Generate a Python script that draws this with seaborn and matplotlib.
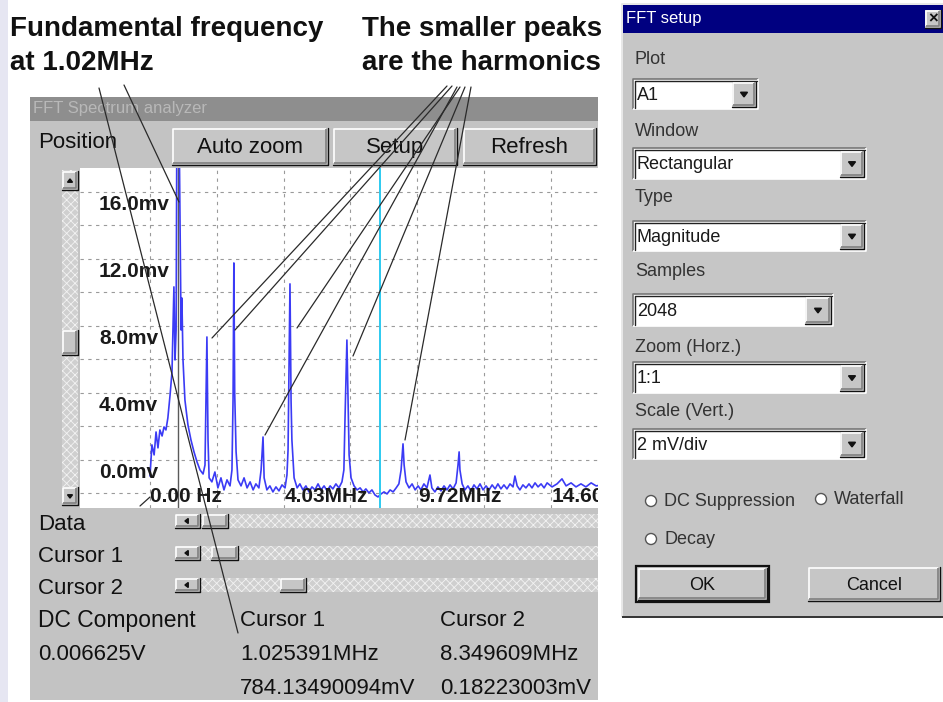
import matplotlib
matplotlib.use("Agg")
import matplotlib.pyplot as plt
from matplotlib.patches import Rectangle, Circle, Polygon
import seaborn as sns

W, H = 943, 702

# spectrum trace (frequency in MHz, level in mV)
freq_mhz = [
    0.00, 0.07, 0.15, 0.22, 0.29, 0.36, 0.44, 0.51, 0.58, 0.65,
    0.73, 0.80, 0.87, 0.91, 0.95, 0.98, 1.02, 1.05, 1.13, 1.16,
    1.20, 1.27, 1.38, 1.49, 1.60, 1.71, 1.82, 1.93, 2.00, 2.07,
    2.11, 2.15, 2.25, 2.36, 2.47, 2.58, 2.69, 2.80, 2.91, 2.98,
    3.02, 3.05, 3.08, 3.13, 3.20, 3.31, 3.42, 3.53, 3.64, 3.75,
    3.85, 3.96, 4.04, 4.11, 4.15, 4.25, 4.36, 4.47, 4.58, 4.69,
    4.80, 4.91, 4.98, 5.02, 5.05, 5.09, 5.13, 5.16, 5.24, 5.35,
    5.45, 5.56, 5.67, 5.78, 5.89, 6.00, 6.11, 6.22, 6.33, 6.44,
    6.55, 6.65, 6.76, 6.87, 6.98, 7.05, 7.09, 7.16, 7.20, 7.24,
    7.31, 7.42, 7.53, 7.64, 7.75, 7.85, 7.96, 8.07, 8.18, 8.29,
    8.40, 8.51, 8.62, 8.73, 8.84, 8.95, 9.05, 9.13, 9.20, 9.24,
    9.31, 9.42, 9.53, 9.64, 9.75, 9.85, 9.96, 10.07, 10.18, 10.25,
    10.36, 10.47, 10.58, 10.69, 10.80, 10.91, 11.02, 11.13, 11.20, 11.24,
    11.27, 11.35, 11.45, 11.56, 11.67, 11.78, 11.89, 12.00, 12.11, 12.22,
    12.33, 12.44, 12.55, 12.65, 12.76, 12.87, 12.98, 13.09, 13.20, 13.27,
    13.35, 13.45, 13.56, 13.67, 13.78, 13.89, 14.00, 14.11, 14.22, 14.33,
    14.44, 14.62, 14.80, 14.98, 15.13, 15.31, 15.49, 15.67, 15.85, 16.04,
    16.22, 16.40,
]
level_mv = [
    -0.96, 0.90, 0.30, 1.67, 0.72, 1.79, 1.43, 1.97, 1.79, 2.51,
    3.88, 5.25, 10.33, 5.97, 7.76, 21.5, 18.5, 21.5, 7.76, 9.67,
    5.97, 3.58, 2.09, 1.19, 0.48, -0.12, -0.60, -0.84, -0.30, 7.34,
    1.19, -1.07, -1.31, -0.72, -1.67, -1.07, -1.79, -1.19, -1.55, -0.60,
    3.58, 11.76, 4.00, 0.50, -1.19, -1.55, -1.07, -1.67, -1.31, -1.79,
    -1.43, -1.67, -0.60, 1.37, -1.07, -1.79, -1.55, -1.91, -1.61, -1.85,
    -1.49, -1.67, -0.90, 0.60, 4.78, 10.51, 3.50, 1.19, -1.07, -1.67,
    -1.43, -1.79, -1.55, -1.91, -1.61, -1.79, -1.43, -1.79, -1.55, -1.85,
    -1.55, -1.73, -1.43, -1.67, -1.31, -0.60, 2.39, 7.16, 3.58, 0.30,
    -1.07, -1.55, -1.79, -1.67, -1.91, -1.73, -1.97, -1.79, -2.09, -2.21,
    -2.03, -1.91, -2.03, -1.79, -1.91, -1.67, -1.43, -0.60, 0.96, -0.30,
    -1.31, -1.67, -1.43, -1.79, -1.55, -1.79, -1.43, -1.67, -0.90, -1.67,
    -1.91, -1.61, -1.85, -1.55, -1.79, -1.49, -1.73, -1.37, -0.30, 0.48,
    -0.60, -1.43, -1.79, -1.55, -1.85, -1.49, -1.73, -1.43, -1.79, -1.55,
    -1.79, -1.49, -1.73, -1.43, -1.73, -1.49, -1.73, -1.43, -1.61, -0.96,
    -1.55, -1.79, -1.49, -1.67, -1.43, -1.67, -1.37, -1.61, -1.43, -1.67,
    -1.37, -1.61, -1.43, -1.13, -1.55, -1.37, -1.61, -1.43, -1.61, -1.37,
    -1.55, -1.50,
]

cursor1_mhz = 1.025391
cursor2_mhz = 8.349609
cursor1_mv = 784.13490094
cursor2_mv = 0.18223003
dc_component_v = 0.006625
grid_step_mhz = 2.43

y_label_mv = [16, 12, 8, 4, 0]
y_labels = ["16.0mv", "12.0mv", "8.0mv", "4.0mv", "0.0mv"]
x_label_mhz = [0.0, 4.9, 9.75, 14.6]
x_labels = ["0.00 Hz", "4.03MHz", "9.72MHz", "14.60MHz"]

dialog_fields = ["Plot", "Window", "Type", "Samples", "Zoom (Horz.)", "Scale (Vert.)"]
dialog_values = ["A1", "Rectangular", "Magnitude", "2048", "1:1", "2 mV/div"]

sns.set_style("white")
plt.rcParams["font.family"] = ["Liberation Sans", "DejaVu Sans"]
plt.rcParams["hatch.linewidth"] = 0.6

fig = plt.figure(figsize=(W / 100, H / 100), dpi=100)

# background layer in pixel coordinates (y down)
bg = fig.add_axes([0, 0, 1, 1], zorder=0)
bg.set_xlim(0, W)
bg.set_ylim(H, 0)
bg.axis("off")


def box(ax, x0, y0, x1, y1, fc, ec="none", lw=0, **kw):
    ax.add_patch(Rectangle((x0, y0), x1 - x0, y1 - y0, facecolor=fc,
                           edgecolor=ec, linewidth=lw, **kw))


def bevel(ax, x0, y0, x1, y1, light, dark, lw=0.9):
    ax.plot([x0, x0, x1], [y1, y0, y0], color=light, lw=lw, solid_capstyle="butt")
    ax.plot([x0, x1, x1], [y1, y1, y0], color=dark, lw=lw, solid_capstyle="butt")


def button(ax, x0, y0, x1, y1, label="", size=16, face="#c6c6c6"):
    box(ax, x0, y0, x1, y1, face)
    bevel(ax, x0 + 1, y0 + 1, x1 - 2, y1 - 2, "white", "#808080", 1.2)
    ax.plot([x0, x1, x1], [y1, y1, y0], color="#111111", lw=1.0)
    if label:
        ax.text((x0 + x1) / 2, (y0 + y1) / 2 + 1, label, ha="center",
                va="center", fontsize=size, color="#111111")


def tri(ax, cx, cy, direction, s=3.5):
    if direction == "down":
        pts = [[cx - s, cy - s / 2], [cx + s, cy - s / 2], [cx, cy + s / 1.2]]
    elif direction == "up":
        pts = [[cx - s, cy + s / 2], [cx + s, cy + s / 2], [cx, cy - s / 1.2]]
    else:
        pts = [[cx + s / 2, cy - s], [cx + s / 2, cy + s], [cx - s / 1.2, cy]]
    ax.add_patch(Polygon(pts, closed=True, color="#111111"))


def track(ax, x0, y0, x1, y1):
    box(ax, x0, y0, x1, y1, "#cfcfcf", ec="#f2f2f2", hatch="xxxx")


def combo(ax, x0, y0, x1, y1, text, bw=24):
    box(ax, x0, y0, x1, y1, "white")
    bevel(ax, x0, y0, x1, y1, "#777777", "white", 1.2)
    ax.plot([x0 + 1.5, x0 + 1.5, x1 - 1.5], [y1 - 1.5, y0 + 1.5, y0 + 1.5],
            color="#222222", lw=1.0)
    button(ax, x1 - bw - 2, y0 + 3, x1 - 2, y1 - 2)
    tri(ax, x1 - bw / 2 - 2, (y0 + y1) / 2, "down")
    ax.text(x0 + 4, (y0 + y1) / 2 + 1, text, ha="left", va="center",
            fontsize=13, color="#1a1a1a")


# left lavender strip
box(bg, 0, 0, 8, H, "#e6e6f2")

# ---- headlines ----
bg.text(10, 36, "Fundamental frequency", fontsize=20, fontweight="bold", color="#111111")
bg.text(10, 70, "at 1.02MHz", fontsize=20, fontweight="bold", color="#111111")
bg.text(362, 36, "The smaller peaks", fontsize=20, fontweight="bold", color="#111111")
bg.text(362, 70, "are the harmonics", fontsize=20, fontweight="bold", color="#111111")

# ---- spectrum analyzer window ----
box(bg, 30, 97, 598, 700, "#c3c3c3")
box(bg, 30, 97, 598, 121, "#8e8e8e")
bg.text(33, 109, "FFT Spectrum analyzer", fontsize=12, color="#b8b8b8", va="center")
bg.text(38, 143, "Position", fontsize=16, color="#111111", va="center")
button(bg, 172, 128, 328, 165, "Auto zoom")
button(bg, 333, 128, 457, 165, "Setup")
button(bg, 463, 128, 596, 165, "Refresh")

# vertical position slider
track(bg, 62, 170, 78, 505)
button(bg, 62, 171, 78, 190)
tri(bg, 70, 181, "up", 2.5)
button(bg, 62, 330, 78, 355)
button(bg, 62, 487, 78, 505)
tri(bg, 70, 496, "down", 2.5)

# horizontal sliders
for label, y0, th0, th1 in [("Data", 514, 202, 228), ("Cursor 1", 546, 211, 238),
                            ("Cursor 2", 578, 280, 306)]:
    bg.text(38, y0 + 11, label, fontsize=16, color="#111111", va="center")
    track(bg, 175, y0, 598, y0 + 14)
    button(bg, 175, y0, 200, y0 + 14)
    tri(bg, 187, y0 + 7, "left", 2.5)
    button(bg, th0, y0, th1, y0 + 14)

bg.text(38, 621, "DC Component", fontsize=16.5, color="#111111", va="center")
bg.text(240, 621, "Cursor 1", fontsize=16, color="#111111", va="center")
bg.text(440, 621, "Cursor 2", fontsize=16, color="#111111", va="center")
bg.text(38, 655, f"{dc_component_v:.6f}V", fontsize=16, color="#111111", va="center")
bg.text(240, 655, f"{cursor1_mhz:.6f}MHz", fontsize=16, color="#111111", va="center")
bg.text(440, 655, f"{cursor2_mhz:.6f}MHz", fontsize=16, color="#111111", va="center")
bg.text(240, 688, f"{cursor1_mv:.8f}mV", fontsize=16, color="#111111", va="center")
bg.text(440, 688, f"{cursor2_mv:.8f}mV", fontsize=16, color="#111111", va="center")

# ---- FFT setup dialog ----
box(bg, 622, 4, W, 617, "#c6c6c6")
bevel(bg, 622, 4, W + 5, 617, "#e8e8e8", "#333333", 1.4)
box(bg, 623, 5, W, 33, "#000080")
bg.text(626, 19, "FFT setup", fontsize=12, color="white", va="center")
button(bg, 925, 10, 941, 28)
bg.text(933, 19, "×", fontsize=12, color="#111111", ha="center", va="center",
        fontweight="bold")

field_y = [60, 132, 198, 271, 347, 412]
combo_box = [(633, 79, 758, 109, 24), (633, 148, 866, 179, 24), (633, 221, 866, 251, 24),
             (633, 294, 833, 326, 26), (633, 362, 866, 393, 24), (633, 429, 866, 459, 24)]
for name, value, fy, (x0, y0, x1, y1, bw) in zip(dialog_fields, dialog_values, field_y, combo_box):
    bg.text(635, fy, name, fontsize=13, color="#333333", va="center")
    combo(bg, x0, y0, x1, y1, value, bw)

for cx, cy, label in [(651, 501, "DC Suppression"), (821, 499, "Waterfall"), (651, 539, "Decay")]:
    bg.add_patch(Circle((cx, cy), 5.5, facecolor="white", edgecolor="#555555", lw=1.0))
    bg.text(cx + 13, cy, label, fontsize=13, color="#333333", va="center")

box(bg, 636, 566, 769, 602, "none", ec="#111111", lw=1.6)
button(bg, 638, 568, 767, 600, "OK", size=13)
button(bg, 808, 567, 940, 601, "Cancel", size=13)

# ---- spectrum plot ----
x_left, x_right = -2.545, 16.29
y_bot, y_top = -2.87, 17.43
ax = fig.add_axes([80 / W, 1 - 508 / H, 518 / W, 340 / H], zorder=1)
ax.set_facecolor("white")
ax.axvline(cursor1_mhz, color="#5a5a5a", lw=1.0, zorder=1)
sns.lineplot(x=freq_mhz, y=level_mv, ax=ax, color="#3b3bf5", lw=1.2,
             estimator=None, sort=False, zorder=2)
ax.axvline(cursor2_mhz, color="#2ccaf0", lw=1.4, zorder=3)
ax.set_xlim(x_left, x_right)
ax.set_ylim(y_bot, y_top)
ax.set_xticks([k * grid_step_mhz for k in range(0, 7)])
ax.set_yticks(range(-2, 17, 2))
ax.set_axisbelow(True)
ax.grid(True, color="#9a9a9a", ls=(0, (3, 4)), lw=0.8)
ax.tick_params(length=0, labelbottom=False, labelleft=False)
ax.set_xlabel("")
ax.set_ylabel("")
for s in ax.spines.values():
    s.set_visible(False)

for v, lab in zip(y_label_mv, y_labels):
    ax.text(-1.85, v - 0.75, lab, fontsize=15, fontweight="bold", color="#1a1a1a",
            ha="left", va="center", zorder=4, clip_on=True)
for f, lab in zip(x_label_mhz, x_labels):
    ax.text(f, -2.2, lab, fontsize=15, fontweight="bold", color="#1a1a1a",
            ha="left", va="center", zorder=4, clip_on=True)

# ---- annotation lines on top ----
top = fig.add_axes([0, 0, 1, 1], zorder=3)
top.set_xlim(0, W)
top.set_ylim(H, 0)
top.axis("off")
top.patch.set_alpha(0)
anno_lines = [((99, 88), (238, 633)), ((124, 85), (179, 202)),
              ((447, 86), (212, 338)), ((452, 86), (235, 330)),
              ((460, 87), (297, 328)), ((457, 87), (265, 435)),
              ((465, 87), (353, 356)), ((471, 87), (405, 440)),
              ((140, 506), (150, 497))]
for (xa, ya), (xb, yb) in anno_lines:
    top.plot([xa, xb], [ya, yb], color="#2a2a2a", lw=0.9)

fig.savefig("out.png", dpi=100)
